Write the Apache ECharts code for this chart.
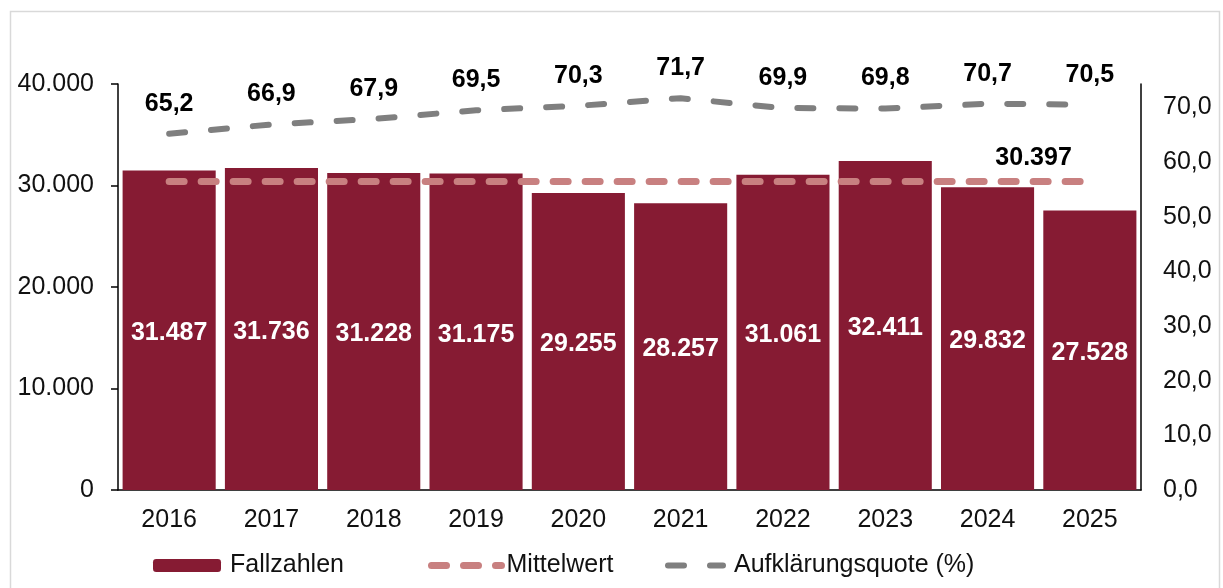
<!DOCTYPE html>
<html>
<head>
<meta charset="utf-8">
<script src="https://cdn.jsdelivr.net/npm/echarts@6/dist/echarts.min.js"></script>
<style>
html,body{margin:0;padding:0;background:#fff;}
#c{width:1223px;height:588px;}
</style>
</head>
<body>
<div id="c"></div>
<script>
var years = ['2016','2017','2018','2019','2020','2021','2022','2023','2024','2025'];
var fallzahlen = [31487, 31736, 31228, 31175, 29255, 28257, 31061, 32411, 29832, 27528];
var mittelwert = [30397, 30397, 30397, 30397, 30397, 30397, 30397, 30397, 30397, 30397];
var quote = [65.2, 66.9, 67.9, 69.5, 70.3, 71.7, 69.9, 69.8, 70.7, 70.5];
var leftTicks = { min: 0, max: 40000, interval: 10000 };
var rightTicks = { min: 0, max: 74.3, interval: 10 };

function de(n) { return String(n).replace(/\B(?=(\d{3})+(?!\d))/g, '.'); }
function dec(n) { return n.toFixed(1).replace('.', ','); }

var FONT = 'Liberation Sans, Arial, sans-serif';
var chart = echarts.init(document.getElementById('c'));
var legendText = { color: '#111', fontSize: 25, fontFamily: FONT, padding: [0, 0, 0, 4] };
chart.setOption({
  animation: false,
  backgroundColor: '#fff',
  graphic: [{
    type: 'rect', silent: true, z: -10,
    shape: { x: 10.5, y: 11.5, width: 1209, height: 600 },
    style: { fill: 'none', stroke: '#d9d9d9', lineWidth: 1.5 }
  }],
  grid: { left: 118, right: 82, top: 84, bottom: 98 },
  legend: [
    { left: 153, top: 553, padding: 0, itemWidth: 68, itemHeight: 13, data: ['Fallzahlen'], textStyle: legendText },
    { left: 428, top: 553, padding: 0, itemWidth: 70, itemHeight: 13, data: ['Mittelwert'],
      lineStyle: { width: 7 }, textStyle: Object.assign({}, legendText, { padding: [0, 0, 0, 0] }) },
    { left: 665, top: 553, padding: 0, itemWidth: 55, itemHeight: 13, data: ['Aufklärungsquote (%)'],
      lineStyle: { width: 6 }, textStyle: Object.assign({}, legendText, { padding: [0, 0, 0, 6] }) }
  ],
  xAxis: {
    type: 'category', data: years,
    axisLine: { lineStyle: { color: '#000', width: 1.5 } },
    axisTick: { show: false },
    axisLabel: { color: '#111', fontSize: 25, fontFamily: FONT, margin: 18 }
  },
  yAxis: [{
    type: 'value', min: leftTicks.min, max: leftTicks.max, interval: leftTicks.interval,
    splitLine: { show: false },
    axisLine: { show: true, lineStyle: { color: '#000', width: 1.5 } },
    axisTick: { show: true, length: 7, lineStyle: { color: '#000', width: 1.5 } },
    axisLabel: { color: '#111', fontSize: 25, fontFamily: FONT, margin: 24, formatter: function (v) { return de(v); } }
  }, {
    type: 'value', min: rightTicks.min, max: rightTicks.max, interval: rightTicks.interval,
    splitLine: { show: false },
    axisLine: { show: true, lineStyle: { color: '#000', width: 1.5 } },
    axisTick: { show: false },
    axisLabel: { color: '#111', fontSize: 25, fontFamily: FONT, margin: 22, showMaxLabel: false, formatter: function (v) { return dec(v); } }
  }],
  series: [{
    name: 'Fallzahlen', type: 'bar', data: fallzahlen, barCategoryGap: '9%',
    itemStyle: { color: '#861B33' },
    label: { show: true, position: 'inside', offset: [0, 3], color: '#fff', fontSize: 25, fontWeight: 'bold', fontFamily: FONT, formatter: function (p) { return de(p.value); } },
    z: 2
  }, {
    name: 'Mittelwert', type: 'line', data: mittelwert, yAxisIndex: 0,
    symbol: 'circle', symbolSize: 1, itemStyle: { color: 'rgba(0,0,0,0)' },
    lineStyle: { color: '#C88080', width: 7, type: [15, 17], cap: 'round' },
    label: {
      show: true, position: 'top', distance: 10, color: '#000', fontSize: 25, fontWeight: 'bold', fontFamily: FONT,
      offset: [46, 0],
      formatter: function (p) { return p.dataIndex === 8 ? de(p.value) : ''; }
    },
    z: 3
  }, {
    name: 'Aufklärungsquote (%)', type: 'line', data: quote, yAxisIndex: 1,
    symbol: 'circle', symbolSize: 1, itemStyle: { color: 'rgba(0,0,0,0)' },
    lineStyle: { color: '#7F7F7F', width: 6, type: [16, 26], cap: 'round' },
    label: { show: true, position: 'top', distance: 17, color: '#000', fontSize: 25, fontWeight: 'bold', fontFamily: FONT, formatter: function (p) { return dec(p.value); } },
    z: 4
  }]
});
</script>
</body>
</html>
